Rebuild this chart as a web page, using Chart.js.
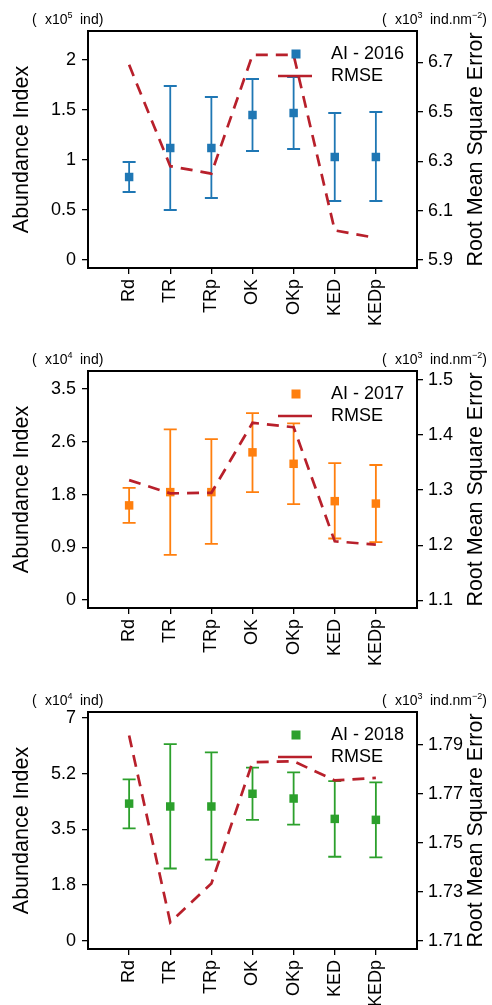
<!DOCTYPE html>
<html>
<head>
<meta charset="utf-8">
<script src="https://cdn.jsdelivr.net/npm/chart.js@4.4.1/dist/chart.umd.min.js"></script>
<style>
  html, body { margin: 0; padding: 0; background: #fff; overflow: hidden; }
  .panel { position: absolute; left: 0; width: 492px; height: 335px; }
</style>
</head>
<body>
<div class="panel" style="top:0px"><canvas id="ai2016" width="492" height="335"></canvas></div>
<div class="panel" style="top:340px"><canvas id="ai2017" width="492" height="335"></canvas></div>
<div class="panel" style="top:681px"><canvas id="ai2018" width="492" height="335"></canvas></div>
<script>
const methods = ['Rd', 'TR', 'TRp', 'OK', 'OKp', 'KED', 'KEDp'];

// 2016 (x10^5 ind), RMSE (x10^3 ind.nm^-2)
const ai2016 = [0.83, 1.12, 1.12, 1.45, 1.47, 1.03, 1.03];
const ai2016Low = [0.68, 0.50, 0.62, 1.09, 1.11, 0.59, 0.59];
const ai2016High = [0.98, 1.74, 1.63, 1.81, 1.83, 1.47, 1.48];
const rmse2016 = [6.69, 6.28, 6.25, 6.73, 6.73, 6.02, 5.99];
const aiTicks2016 = [0, 0.5, 1, 1.5, 2];
const aiLabels2016 = ['0', '0.5', '1', '1.5', '2'];
const rmseTicks2016 = [5.9, 6.1, 6.3, 6.5, 6.7];

// 2017 (x10^4 ind)
const ai2017 = [1.57, 1.79, 1.79, 2.45, 2.26, 1.64, 1.60];
const ai2017Low = [1.28, 0.75, 0.93, 1.79, 1.59, 1.02, 0.96];
const ai2017High = [1.86, 2.83, 2.67, 3.10, 2.93, 2.27, 2.24];
const rmse2017 = [1.318, 1.294, 1.295, 1.422, 1.414, 1.207, 1.201];
const aiTicks2017 = [0, 0.875, 1.75, 2.625, 3.5];
const aiLabels2017 = ['0', '0.9', '1.8', '2.6', '3.5'];
const rmseTicks2017 = [1.1, 1.2, 1.3, 1.4, 1.5];

// 2018 (x10^4 ind)
const ai2018 = [4.31, 4.22, 4.22, 4.62, 4.47, 3.83, 3.80];
const ai2018Low = [3.53, 2.27, 2.55, 3.80, 3.65, 2.64, 2.62];
const ai2018High = [5.07, 6.18, 5.92, 5.44, 5.29, 5.02, 4.98];
const rmse2018 = [1.7937, 1.7175, 1.7333, 1.7828, 1.7832, 1.7754, 1.7764];
const aiTicks2018 = [0, 1.75, 3.5, 5.25, 7];
const aiLabels2018 = ['0', '1.8', '3.5', '5.2', '7'];
const rmseTicks2018 = [1.71, 1.73, 1.75, 1.77, 1.79];

const RED = '#b8202b';
const DASH = [12, 8];
const FONT = 'Liberation Sans, Arial, sans-serif';

Chart.defaults.font.family = FONT;
Chart.defaults.color = '#000';

function drawPieces(ctx, pieces) {
  // pieces: [text, x, y, size]; x null = right after the previous piece
  let cx = 0;
  pieces.forEach(([t, x, y, size]) => {
    ctx.font = size + 'px ' + FONT;
    if (x !== null) cx = x;
    ctx.fillText(t, cx, y);
    cx += ctx.measureText(t).width;
  });
}

const panelDecor = {
  id: 'panelDecor',
  beforeDatasetsDraw(chart, args, o) {
    const ctx = chart.ctx;
    const xs = chart.scales.x, ys = chart.scales.y;
    ctx.save();
    ctx.strokeStyle = o.color;
    ctx.lineWidth = 1.8;
    o.low.forEach((lo, i) => {
      const px = xs.getPixelForValue(i + 1);
      const y0 = ys.getPixelForValue(lo);
      const y1 = ys.getPixelForValue(o.high[i]);
      ctx.beginPath();
      ctx.moveTo(px, y0); ctx.lineTo(px, y1);
      ctx.moveTo(px - 6.5, y0); ctx.lineTo(px + 6.5, y0);
      ctx.moveTo(px - 6.5, y1); ctx.lineTo(px + 6.5, y1);
      ctx.stroke();
    });
    ctx.restore();
  },
  afterDraw(chart, args, o) {
    const ctx = chart.ctx;
    const a = chart.chartArea;
    ctx.save();
    ctx.strokeStyle = '#000';
    ctx.lineWidth = 2;
    ctx.strokeRect(a.left, a.top, a.right - a.left, a.bottom - a.top);

    // legend
    ctx.fillStyle = o.color;
    ctx.fillRect(296 - 4.5, 54 - 4.5, 9, 9);
    ctx.strokeStyle = RED;
    ctx.lineWidth = 2.7;
    ctx.beginPath();
    ctx.moveTo(278, 76); ctx.lineTo(312, 76);
    ctx.stroke();
    ctx.fillStyle = '#000';
    ctx.font = '18px ' + FONT;
    ctx.textBaseline = 'middle';
    ctx.fillText(o.label, 331, 54);
    ctx.fillText('RMSE', 331, 76.5);

    // right axis title, reading bottom to top
    ctx.save();
    ctx.translate(476, (a.top + a.bottom) / 2);
    ctx.rotate(-Math.PI / 2);
    ctx.textAlign = 'center';
    ctx.font = '21.5px ' + FONT;
    ctx.fillText('Root Mean Square Error', 0, 0);
    ctx.restore();

    // units
    ctx.textBaseline = 'alphabetic';
    drawPieces(ctx, [['(', 32, 23.5, 14], ['x10', 45, 23.5, 14], [o.exp, null, 18, 9], ['ind)', 80, 23.5, 14]]);
    drawPieces(ctx, [['(', 382, 23.5, 14], ['x10', 395, 23.5, 14], ['3', null, 18, 9],
      ['ind.nm', 430, 23.5, 14], ['\u22122', null, 18, 9], [')', null, 23.5, 14]]);
    ctx.restore();
  }
};

function makePanel(id, color, label, exp, ai, low, high, rmse, aiTicks, aiLabels, aiMin, aiMax, rmseTicks, rmseMin, rmseMax) {
  const ctx = document.getElementById(id);
  const tickGrid = { drawOnChartArea: false, drawTicks: true, tickLength: 6, color: '#000', lineWidth: 1.3 };

  new Chart(ctx, {
    type: 'line',
    data: {
      datasets: [{
        label: 'RMSE',
        yAxisID: 'y1',
        data: rmse.map((v, i) => ({ x: i + 1, y: v })),
        borderColor: RED,
        borderWidth: 2.7,
        borderDash: DASH,
        pointRadius: 0,
        fill: false,
        tension: 0
      }, {
        label: label,
        yAxisID: 'y',
        data: ai.map((v, i) => ({ x: i + 1, y: v })),
        showLine: false,
        pointStyle: 'rect',
        pointRadius: 6,
        pointBorderWidth: 0,
        backgroundColor: color,
        borderColor: color
      }]
    },
    options: {
      responsive: false,
      animation: false,
      devicePixelRatio: 1,
      layout: { padding: { top: 31, left: 0, right: 0, bottom: 0 } },
      scales: {
        x: {
          type: 'linear', min: 0, max: 8,
          afterBuildTicks: s => { s.ticks = methods.map((m, i) => ({ value: i + 1 })); },
          afterFit: s => { s.height = 67; },
          grid: tickGrid,
          border: { display: false },
          ticks: {
            autoSkip: false, minRotation: 90, maxRotation: 90, padding: 5,
            font: { size: 18 }, color: '#000',
            callback: v => methods[v - 1]
          }
        },
        y: {
          position: 'left', min: aiMin, max: aiMax,
          afterBuildTicks: s => { s.ticks = aiTicks.map(v => ({ value: v })); },
          afterFit: s => { s.width = 88; },
          grid: tickGrid,
          border: { display: false },
          ticks: { padding: 6, font: { size: 18 }, color: '#000', callback: (v, i) => aiLabels[i] },
          title: { display: true, text: 'Abundance Index', font: { size: 21.5 }, color: '#000', padding: { top: 9, bottom: 0 } }
        },
        y1: {
          position: 'right', min: rmseMin, max: rmseMax,
          afterBuildTicks: s => { s.ticks = rmseTicks.map(v => ({ value: v })); },
          afterFit: s => { s.width = 75; },
          grid: tickGrid,
          border: { display: false },
          ticks: { padding: 5, font: { size: 18 }, color: '#000', callback: v => String(v) }
        }
      },
      plugins: {
        legend: { display: false },
        tooltip: { enabled: false },
        panelDecor: { color: color, label: label, exp: exp, low: low, high: high }
      }
    },
    plugins: [panelDecor]
  });
}

makePanel('ai2016', '#1f77b4', 'AI - 2016', '5', ai2016, ai2016Low, ai2016High, rmse2016,
  aiTicks2016, aiLabels2016, -0.08, 2.29, rmseTicks2016, 5.868, 6.827);
makePanel('ai2017', '#ff7f0e', 'AI - 2017', '4', ai2017, ai2017Low, ai2017High, rmse2017,
  aiTicks2017, aiLabels2017, -0.133, 3.80, rmseTicks2017, 1.086, 1.516);
makePanel('ai2018', '#2ca02c', 'AI - 2018', '4', ai2018, ai2018Low, ai2018High, rmse2018,
  aiTicks2018, aiLabels2018, -0.26, 7.19, rmseTicks2018, 1.7066, 1.8033);
</script>
</body>
</html>
